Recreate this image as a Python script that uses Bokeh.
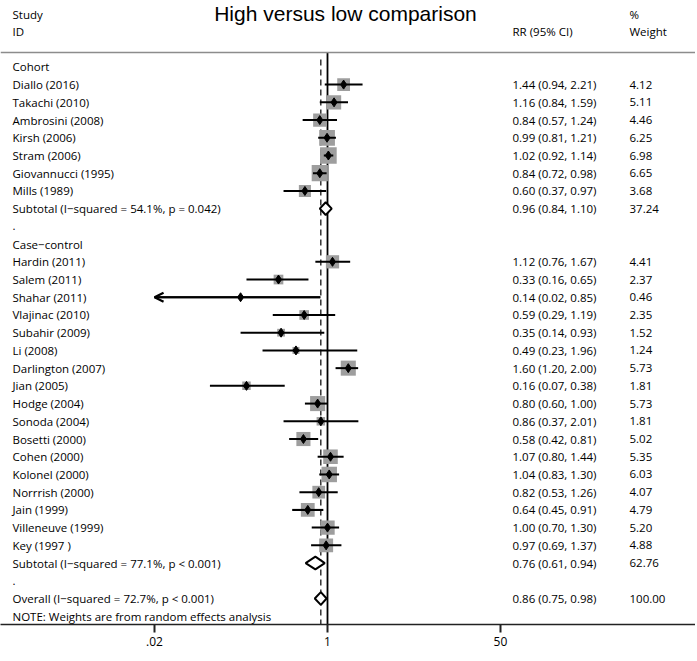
import numpy as np
from bokeh.plotting import figure
from bokeh.models import Range1d, FixedTicker, ColumnDataSource, Arrow, OpenHead, Span
from bokeh.embed import file_html
from bokeh.resources import INLINE
from bokeh.core.properties import value

# ---------------- data ----------------
cohort_names = ["Diallo (2016)", "Takachi (2010)", "Ambrosini (2008)", "Kirsh (2006)",
                "Stram (2006)", "Giovannucci (1995)", "Mills (1989)"]
cohort_rr = [1.44, 1.16, 0.84, 0.99, 1.02, 0.84, 0.60]
cohort_lo = [0.94, 0.84, 0.57, 0.81, 0.92, 0.72, 0.37]
cohort_hi = [2.21, 1.59, 1.24, 1.21, 1.14, 0.98, 0.97]
cohort_w = [4.12, 5.11, 4.46, 6.25, 6.98, 6.65, 3.68]
cohort_sub = [0.96, 0.84, 1.10, 37.24]
cohort_sub_label = "Subtotal  (I\u2212squared = 54.1%, p = 0.042)"

cc_names = ["Hardin (2011)", "Salem (2011)", "Shahar (2011)", "Vlajinac (2010)",
            "Subahir (2009)", "Li (2008)", "Darlington (2007)", "Jian (2005)",
            "Hodge (2004)", "Sonoda (2004)", "Bosetti (2000)", "Cohen (2000)",
            "Kolonel (2000)", "Norrrish (2000)", "Jain (1999)", "Villeneuve (1999)",
            "Key (1997 )"]
cc_rr = [1.12, 0.33, 0.14, 0.59, 0.35, 0.49, 1.60, 0.16, 0.80, 0.86, 0.58, 1.07,
         1.04, 0.82, 0.64, 1.00, 0.97]
cc_lo = [0.76, 0.16, 0.02, 0.29, 0.14, 0.23, 1.20, 0.07, 0.60, 0.37, 0.42, 0.80,
         0.83, 0.53, 0.45, 0.70, 0.69]
cc_hi = [1.67, 0.65, 0.85, 1.19, 0.93, 1.96, 2.00, 0.38, 1.00, 2.01, 0.81, 1.44,
         1.30, 1.26, 0.91, 1.30, 1.37]
cc_w = [4.41, 2.37, 0.46, 2.35, 1.52, 1.24, 5.73, 1.81, 5.73, 1.81, 5.02, 5.35,
        6.03, 4.07, 4.79, 5.20, 4.88]
cc_sub = [0.76, 0.61, 0.94, 62.76]
cc_sub_label = "Subtotal  (I\u2212squared = 77.1%, p < 0.001)"

overall = [0.86, 0.75, 0.98, 100.00]
overall_label = "Overall  (I\u2212squared = 72.7%, p < 0.001)"

tick_values = [0.02, 1, 50]
tick_labels = [".02", "1", "50"]

title_text = "High versus low comparison"
note_text = "NOTE: Weights are from random effects analysis"

# ---------------- layout helpers ----------------
X0, DEC = 327.0, 101.8      # px of RR=1, px per decade
Y0, S = 66.4, 17.72         # px of first row, px per row
FL, FR, FT, FB = 0, 695, 0, 624

def xp(px):
    return (px - X0) / DEC

def yp(py):
    return (py - Y0) / S

FONT = value("Open Sans")
FS = "11.5px"
TXT_X = xp(12)
RR_X = xp(512)
W_X = xp(629)

# ---------------- row assembly ----------------
rows_label, rows_y = [], []
stud_x, stud_lo, stud_hi, stud_w, stud_y = [], [], [], [], []
dia = []  # (rr, lo, hi, y)
rr_txt, rr_y, w_txt = [], [], []

def fmt(rr, lo, hi):
    return f"{rr:.2f} ({lo:.2f}, {hi:.2f})"

r = 0
def add_label(t, row):
    rows_label.append(t); rows_y.append(row)

add_label("Cohort", r); r += 1
for n, a, l, h, w in zip(cohort_names, cohort_rr, cohort_lo, cohort_hi, cohort_w):
    add_label(n, r)
    stud_x.append(a); stud_lo.append(l); stud_hi.append(h); stud_w.append(w); stud_y.append(r)
    rr_txt.append(fmt(a, l, h)); w_txt.append(f"{w:.2f}"); rr_y.append(r)
    r += 1
add_label(cohort_sub_label, r)
dia.append((cohort_sub[0], cohort_sub[1], cohort_sub[2], r))
rr_txt.append(fmt(*cohort_sub[:3])); w_txt.append(f"{cohort_sub[3]:.2f}"); rr_y.append(r)
r += 1
add_label(".", r); r += 1
add_label("Case\u2212control", r); r += 1
for n, a, l, h, w in zip(cc_names, cc_rr, cc_lo, cc_hi, cc_w):
    add_label(n, r)
    stud_x.append(a); stud_lo.append(l); stud_hi.append(h); stud_w.append(w); stud_y.append(r)
    rr_txt.append(fmt(a, l, h)); w_txt.append(f"{w:.2f}"); rr_y.append(r)
    r += 1
add_label(cc_sub_label, r)
dia.append((cc_sub[0], cc_sub[1], cc_sub[2], r))
rr_txt.append(fmt(*cc_sub[:3])); w_txt.append(f"{cc_sub[3]:.2f}"); rr_y.append(r)
r += 1
add_label(".", r); r += 1
add_label(overall_label, r)
dia.append((overall[0], overall[1], overall[2], r))
rr_txt.append(fmt(*overall[:3])); w_txt.append(f"{overall[3]:.2f}"); rr_y.append(r)
r += 1
add_label(note_text, r)

xmin = min(tick_values)

# ---------------- figure ----------------
p = figure(frame_width=FR - FL, frame_height=FB - FT,
           x_range=Range1d(xp(FL), xp(FR)), y_range=Range1d(yp(FB), yp(FT)),
           output_backend="svg", toolbar_location=None,
           min_border_left=0, min_border_right=0, min_border_top=0, min_border_bottom=0)
p.outline_line_color = None
p.xgrid.visible = False
p.ygrid.visible = False
p.yaxis.visible = False
p.background_fill_color = "white"
p.border_fill_color = "white"

# x axis on log scale (values drawn as log10)
p.xaxis.ticker = FixedTicker(ticks=[float(np.log10(t)) for t in tick_values])
p.xaxis.major_label_overrides = {float(np.log10(t)): s for t, s in zip(tick_values, tick_labels)}
p.xaxis.minor_tick_line_color = None
p.xaxis.major_tick_in = 0
p.xaxis.major_tick_out = 8
p.xaxis.major_tick_line_width = 2
p.xaxis.major_tick_line_color = "#222222"
p.xaxis.axis_line_width = 1.6
p.xaxis.axis_line_color = "#222222"
p.xaxis.major_label_text_font = "Open Sans"
p.xaxis.major_label_text_font_size = "12px"
p.xaxis.major_label_text_color = "black"
p.xaxis.major_label_standoff = 4

# header line
p.add_layout(Span(location=yp(52), dimension="width", line_color="#8c8c8c", line_width=1.5))

# reference lines
p.segment(x0=[0.0], y0=[yp(52)], x1=[0.0], y1=[yp(FB)], line_color="black", line_width=1.8)
ov = float(np.log10(overall[0]))
p.segment(x0=[ov], y0=[yp(59)], x1=[ov], y1=[yp(FB)], line_color="black",
          line_width=1.2, line_dash="6 4")

# weight squares
sq = ColumnDataSource(dict(x=np.log10(stud_x), y=stud_y,
                           s=6.3 * np.sqrt(np.array(stud_w))))
p.scatter("x", "y", size="s", marker="square", source=sq, fill_color="#9e9e9e",
          line_color=None)

# CIs
lo_draw = np.log10(np.maximum(stud_lo, xmin))
hi_draw = np.log10(stud_hi)
p.segment(x0=lo_draw, y0=stud_y, x1=hi_draw, y1=stud_y, line_color="black", line_width=2)
arr_idx = [i for i, l in enumerate(stud_lo) if l <= xmin]
if arr_idx:
    asrc = ColumnDataSource(dict(xs=[hi_draw[i] for i in arr_idx],
                                 xe=[lo_draw[i] for i in arr_idx],
                                 y=[stud_y[i] for i in arr_idx]))
    p.add_layout(Arrow(end=OpenHead(size=9, line_width=2.2, line_color="black"),
                       x_start="xs", y_start="y", x_end="xe", y_end="y",
                       line_width=2, line_color="black", source=asrc))

# point estimates
p.scatter(np.log10(stud_x), stud_y, marker="diamond", size=9, fill_color="black",
          line_color="black")

# pooled diamonds
H = 0.36
p.patches(xs=[[np.log10(l), np.log10(a), np.log10(h), np.log10(a)] for a, l, h, _ in dia],
          ys=[[y, y - H, y, y + H] for _, _, _, y in dia],
          fill_color="white", line_color="black", line_width=2)

# texts
p.text(x=[TXT_X] * len(rows_label), y=rows_y, text=rows_label, text_font=FONT,
       text_font_size=FS, text_baseline="middle", text_align="left", text_color="black")
p.text(x=[RR_X] * len(rr_txt), y=rr_y, text=rr_txt, text_font=FONT,
       text_font_size=FS, text_baseline="middle", text_align="left", text_color="black")
p.text(x=[W_X] * len(w_txt), y=rr_y, text=w_txt, text_font=FONT,
       text_font_size=FS, text_baseline="middle", text_align="left", text_color="black")

# headers
p.text(x=[TXT_X, TXT_X, RR_X, W_X, W_X], y=[yp(14), yp(31), yp(31), yp(14), yp(31)],
       text=["Study", "ID", "RR (95% CI)", "%", "Weight"], text_font=FONT,
       text_font_size=FS, text_baseline="middle", text_align="left", text_color="black")
p.text(x=[xp(345)], y=[yp(13)], text=[title_text], text_font=value("Liberation Sans"),
       text_font_size="21px", text_baseline="middle", text_align="center",
       text_color="black")

open("out.html", "w").write(file_html(p, INLINE))
